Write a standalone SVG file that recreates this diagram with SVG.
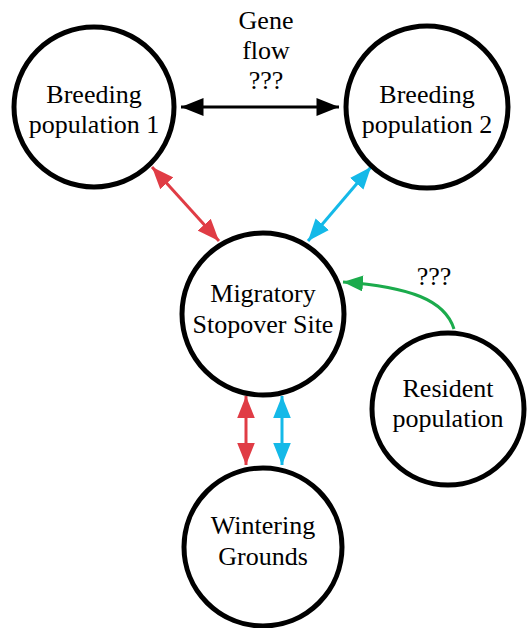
<svg xmlns="http://www.w3.org/2000/svg" width="527" height="628" viewBox="0 0 527 628">
<style>
.node{fill:#fff;stroke:#000;stroke-width:5}
.lbl{font-family:'Liberation Serif','Times New Roman',serif;font-size:26px;fill:#000;text-anchor:middle}
.c{fill:none;stroke-width:3}
</style>
<defs>
<marker id="ak" viewBox="0 0 20 16" refX="20" refY="8" markerWidth="26" markerHeight="18" markerUnits="userSpaceOnUse" orient="auto-start-reverse"><path d="M0,0L20,8L0,16z" fill="#000"/></marker>
<marker id="ar" viewBox="0 0 20 16" refX="20" refY="8" markerWidth="22" markerHeight="18" markerUnits="userSpaceOnUse" orient="auto-start-reverse"><path d="M0,0L20,8L0,16z" fill="#e03c45"/></marker>
<marker id="ab" viewBox="0 0 20 16" refX="20" refY="8" markerWidth="22" markerHeight="18" markerUnits="userSpaceOnUse" orient="auto-start-reverse"><path d="M0,0L20,8L0,16z" fill="#14b9e8"/></marker>
<marker id="ag" viewBox="0 0 20 16" refX="20" refY="8" markerWidth="20" markerHeight="16" markerUnits="userSpaceOnUse" orient="auto"><path d="M0,0L20,8L0,16z" fill="#1bab4c"/></marker>
</defs>
<g id="connectors">
<line class="c" x1="181" y1="107" x2="339" y2="107" stroke="#000" marker-start="url(#ak)" marker-end="url(#ak)"/>
<line class="c" x1="152" y1="167" x2="219" y2="241" stroke="#e03c45" marker-start="url(#ar)" marker-end="url(#ar)"/>
<line class="c" x1="371" y1="167" x2="308" y2="241" stroke="#14b9e8" marker-start="url(#ab)" marker-end="url(#ab)"/>
<line class="c" x1="246" y1="396" x2="246" y2="465" stroke="#e03c45" marker-start="url(#ar)" marker-end="url(#ar)"/>
<line class="c" x1="282" y1="396" x2="282" y2="465" stroke="#14b9e8" marker-start="url(#ab)" marker-end="url(#ab)"/>
<path class="c" d="M454,329 C445,300 410,287 343,282" stroke="#1bab4c" marker-end="url(#ag)"/>
<text class="lbl" x="266" y="29">Gene</text>
<text class="lbl" x="266" y="59">flow</text>
<text class="lbl" x="266" y="89">???</text>
<text class="lbl" x="434" y="285">???</text>
</g>
<g id="bp1"><circle class="node" cx="94" cy="107" r="80"/><text class="lbl" x="94" y="103">Breeding</text><text class="lbl" x="94" y="133">population 1</text></g>
<g id="bp2"><circle class="node" cx="427" cy="107" r="81"/><text class="lbl" x="427" y="103">Breeding</text><text class="lbl" x="427" y="133">population 2</text></g>
<g id="mss"><circle class="node" cx="263" cy="314" r="81"/><text class="lbl" x="263" y="302">Migratory</text><text class="lbl" x="263" y="333">Stopover Site</text></g>
<g id="wg"><circle class="node" cx="263" cy="547" r="79"/><text class="lbl" x="263" y="534">Wintering</text><text class="lbl" x="263" y="565">Grounds</text></g>
<g id="rp"><circle class="node" cx="448" cy="409" r="76"/><text class="lbl" x="448" y="397">Resident</text><text class="lbl" x="448" y="427">population</text></g>
</svg>
